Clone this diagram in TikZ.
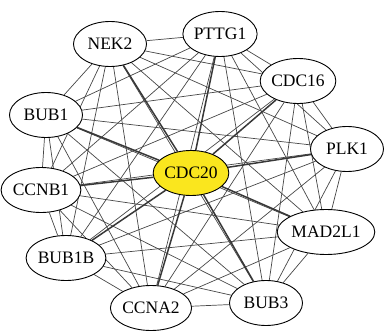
\documentclass[tikz,border=0pt]{standalone}
\usepackage{fontspec}
\setmainfont{Liberation Serif}
\usetikzlibrary{shapes,backgrounds}
\definecolor{hubyellow}{RGB}{250,230,30}

\begin{document}
\begin{tikzpicture}[x=1pt,y=-1pt,thin]
\tikzstyle{every node}=[ellipse,draw=black,fill=white,line width=0.9pt,minimum width=73pt,minimum height=45pt,inner sep=0pt,font=\fontsize{17.5}{17.5}\selectfont]
\tikzstyle{link}=[draw=black!72,line width=0.7pt]
\tikzstyle{hublink}=[draw=black!78,line width=1.5pt]
\useasboundingbox (0,0) rectangle (386,332);

\node (NEK2)    at (110,44)  {NEK2};
\node (PTTG1)   at (220,34)  {PTTG1};
\node (CDC16)   at (298,81)  {CDC16};
\node (PLK1)    at (347,149) {PLK1};
\node (MAD2L1)  at (326,232) {MAD2L1};
\node (BUB3)    at (266,303) {BUB3};
\node (CCNA2)   at (151,308) {CCNA2};
\node (BUB1B)   at (66,258)  {BUB1B};
\node (CCNB1)   at (41,190)  {CCNB1};
\node (BUB1)    at (46,115)  {BUB1};
\node (CDC20) [fill=hubyellow] at (191,173) {CDC20};

\begin{pgfonlayer}{background}
% every pair of outer genes is linked
\foreach \a [count=\i] in {NEK2,PTTG1,CDC16,PLK1,MAD2L1,BUB3,CCNA2,BUB1B,CCNB1,BUB1}
  \foreach \b [count=\j] in {NEK2,PTTG1,CDC16,PLK1,MAD2L1,BUB3,CCNA2,BUB1B,CCNB1,BUB1}
    {\ifnum\j>\i \draw[link] (\a) -- (\b); \fi}
% hub
\foreach \a in {NEK2,PTTG1,CDC16,PLK1,MAD2L1,BUB3,CCNA2,BUB1B,CCNB1,BUB1}
  \draw[hublink] (CDC20) -- (\a);
\end{pgfonlayer}
\end{tikzpicture}
\end{document}
